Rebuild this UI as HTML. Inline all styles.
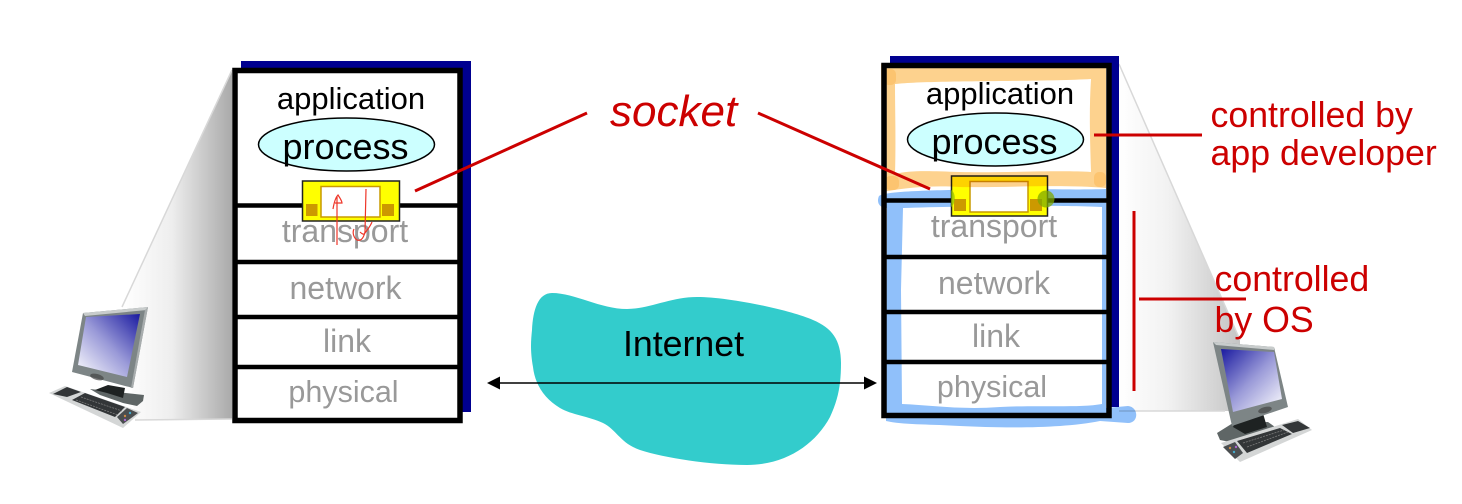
<!DOCTYPE html>
<html><head><meta charset="utf-8"><style>
html,body{margin:0;padding:0;background:#fff}
svg{display:block}
text{font-family:"Liberation Sans",sans-serif}
.g{fill:#999;font-size:32px;text-anchor:middle}
.p{fill:#999;font-size:30.500px;text-anchor:middle}
.k{fill:#000;text-anchor:middle}
.r{fill:#c00;font-size:35.700px}
</style></head><body>
<svg width="1462" height="504" viewBox="0 0 1462 504" xmlns="http://www.w3.org/2000/svg">
<defs>
<linearGradient id="wl" x1="0" x2="1" y1="0" y2="0"><stop offset="0" stop-color="#fff"/><stop offset=".45" stop-color="#eee"/><stop offset="1" stop-color="#aaa"/></linearGradient>
<linearGradient id="wr" x1="0" x2="1" y1="0" y2="0"><stop offset="0" stop-color="#fff"/><stop offset=".4" stop-color="#f2f2f2"/><stop offset="1" stop-color="#c4c4c4"/></linearGradient>
<linearGradient id="s1" x1="1" y1="0" x2="0" y2="1"><stop offset="0" stop-color="#1a1aa0"/><stop offset=".5" stop-color="#9a9ad8"/><stop offset="1" stop-color="#fff"/></linearGradient>
<linearGradient id="s2" x1="0" y1="0" x2="1" y2="1"><stop offset="0" stop-color="#1a1aa0"/><stop offset=".5" stop-color="#9a9ad8"/><stop offset="1" stop-color="#fff"/></linearGradient>
</defs>

<!-- wedges -->
<polygon points="232,70 122,307 135,420 232,419" fill="url(#wl)"/>
<path d="M232,70L122,307M135,420L232,419" stroke="#d8d8d8" stroke-width="1.500" fill="none"/>
<polygon points="1119,64 1240,340 1240,411 1119,411" fill="url(#wr)"/>
<path d="M1119,64L1240,340M1119,411L1225,411" stroke="#d8d8d8" stroke-width="1.500" fill="none"/>

<!-- left stack -->
<rect x="241" y="61" width="230" height="351" fill="#000090"/>
<rect x="235" y="70.500" width="225" height="350" fill="#fff" stroke="#000" stroke-width="5.500"/>
<path d="M235,205.500H460M235,262H460M235,317H460M235,367H460" stroke="#000" stroke-width="4.500"/>
<text class="k" x="351" y="109" font-size="31">application</text>
<ellipse cx="346.500" cy="144.500" rx="88" ry="26.500" fill="#ccffff" stroke="#000" stroke-width="1.500"/>
<text class="k" x="345.500" y="159" font-size="36">process</text>
<text class="g" x="345" y="242">transport</text>
<text class="g" x="345.500" y="299">network</text>
<text class="g" x="347" y="352">link</text>
<text class="p" x="343.500" y="402">physical</text>
<rect x="302.500" y="181" width="97" height="40" fill="#ff0" stroke="#222" stroke-width="1.500"/>
<rect x="321" y="186.500" width="59" height="30.500" fill="#fff" stroke="#c99a00" stroke-width="1.500"/>
<rect x="306" y="204" width="11.500" height="12" fill="#cc9900"/>
<rect x="382" y="204" width="12" height="12" fill="#cc9900"/>
<g fill="none" stroke="#ee3528" stroke-width="1.200">
<path d="M337,245L337,196M333,209C334,203 336,197 338,195C340,198 342,202 342,203C339,203 337,203 335,203"/>
<path d="M366,189L365,232C363,240 360,241 357,240C354,238 352,233 354,229M360,232C362,234 364,235 365,233C367,230 370,227 372,222"/>
</g>

<!-- right stack -->
<rect x="890" y="56" width="229" height="351" fill="#000090"/>
<rect x="884" y="65.500" width="225" height="350" fill="#fff" stroke="#000" stroke-width="5.500"/>
<path d="M884,200.500H1109M884,257H1109M884,312H1109M884,362H1109" stroke="#000" stroke-width="4.500"/>
<text class="k" x="1000" y="104" font-size="31">application</text>
<ellipse cx="995.500" cy="139.500" rx="88" ry="26.500" fill="#ccffff" stroke="#000" stroke-width="1.500"/>
<text class="k" x="994.500" y="154" font-size="36">process</text>
<text class="g" x="994" y="237">transport</text>
<text class="g" x="994" y="294">network</text>
<text class="g" x="996" y="347">link</text>
<text class="p" x="992" y="397">physical</text>

<!-- blue highlighter -->
<g style="mix-blend-mode:multiply">
<path d="M879,196C885,190 960,190 1000,189C1040,189 1080,190 1106,189L1106,408L1128,406C1139,407 1139,423 1128,423L1100,421C1060,429 1000,428 960,426C930,424 905,425 886,421L887,208C880,208 876,203 879,196Z
M903,208L901,290L902,404C930,405 960,410 1000,407C1040,405 1080,408 1102,404L1102,207C1060,205 960,206 903,208Z" fill="#90c0fa" fill-rule="evenodd"/>
</g>

<!-- right socket -->
<rect x="951.500" y="176" width="96" height="40" fill="#ff0" stroke="#222" stroke-width="1.500"/>
<rect x="970" y="181.500" width="58" height="30.500" fill="#fff" stroke="#c99a00" stroke-width="1.500"/>
<rect x="954" y="199" width="12" height="12" fill="#cc9900"/>
<rect x="1030" y="199" width="12" height="12" fill="#cc9900"/>
<circle cx="1046" cy="199" r="8.500" fill="#7fa800" opacity=".75"/>
<path d="M951,190C956,192 956,204 951,207Z" fill="#8fc000" opacity=".7"/>

<!-- orange highlighter -->
<g style="mix-blend-mode:multiply">
<path d="M881,64L1106,68L1106,188C1060,184 1000,188 960,187C930,185 905,188 882,192Z
M895,84C930,80 1040,82 1091,79C1089,110 1090,140 1091,172C1060,170 1000,173 960,172C930,171 910,170 895,174C896,140 895,110 895,84Z" fill="#fdd28e" fill-rule="evenodd"/>
<g fill="#fcc470"><rect x="883" y="69" width="13" height="16" rx="5"/><rect x="885" y="176" width="14" height="14" rx="5"/><rect x="1094" y="172" width="12" height="15" rx="5"/></g>
</g>

<!-- internet cloud -->
<path d="M552,293C575,293 600,309 627,309C650,309 670,297 697,297C730,297 790,310 813,320C832,328 841,340 841,363C841,385 838,400 830,417C815,445 785,465 747,465C710,465 665,458 640,450C620,443 617,430 603,423C588,416 572,415 560,408C545,399 535,385 533,367C530,350 531,340 532,330C533,310 538,293 552,293Z" fill="#33cccc"/>
<text x="623" y="356" font-size="35.700" fill="#000">Internet</text>
<path d="M499,383H865" stroke="#000" stroke-width="1.500"/>
<polygon points="487,383 500,376.500 500,389.500" fill="#000"/>
<polygon points="877,383 864,376.500 864,389.500" fill="#000"/>

<!-- red annotations -->
<path d="M415,191L587,113M758,113L930,189M1094,135H1202M1134,211V391M1139,299H1246" stroke="#c00" stroke-width="3" fill="none"/>
<text x="610" y="126" font-size="44" font-style="italic" fill="#c00">socket</text>
<text class="r" x="1210.500" y="127">controlled by</text>
<text class="r" x="1210.500" y="165">app developer</text>
<text class="r" x="1214.500" y="291">controlled</text>
<text class="r" x="1214.500" y="332">by OS</text>

<!-- left computer -->
<polygon points="90,389 144,395 143,401 137,406 123,403 100,395" fill="#5f6666"/>
<polygon points="95,390 108,385 125,388 123,398 107,393" fill="#1e2222"/>
<polygon points="83,313 148,307 133,388 72,372" fill="#7d8586"/>
<polygon points="83,313 148,307 147,310 85,316" fill="#c8cccc"/>
<polygon points="148,307 133,388 131,388 145,310" fill="#a8adae"/>
<polygon points="86,317 140,314 127,377 78,365" fill="url(#s1)"/>
<ellipse cx="97" cy="377" rx="7" ry="3" transform="rotate(15 97 377)" fill="#444" opacity=".7"/>
<polygon points="49,393 65,386 141,412 123,428" fill="#d4d6d6"/>
<polygon points="53,394 67,387 81,392 67,397" fill="#333638"/>
<polygon points="72,400 85,393 125,407 115,417" fill="#333638"/>
<polygon points="117,417 127,408 138,413 123,424" fill="#4a4e50"/>
<path d="M76,400L118,415M81,397L122,411" stroke="#7a7a7a" stroke-width=".8" stroke-dasharray="2 1"/>
<circle cx="125" cy="416" r="1.200" fill="#c84"/><circle cx="130" cy="413" r="1.200" fill="#4ac"/><circle cx="125" cy="420" r="1.200" fill="#a6c"/>

<!-- right computer -->
<polygon points="1217,433 1233,423 1268,422 1275,427 1257,435 1230,442 1220,440" fill="#5f6666"/>
<polygon points="1233,427 1239,415 1262,410 1267,427 1245,434" fill="#1e2222"/>
<polygon points="1213,342 1274,347 1288,407 1232,426" fill="#7d8586"/>
<polygon points="1213,342 1274,347 1274,350 1216,345" fill="#c8cccc"/>
<polygon points="1221,349 1274,352 1282,399 1233,412" fill="url(#s2)"/>
<ellipse cx="1265" cy="410" rx="7" ry="3" transform="rotate(-15 1265 410)" fill="#444" opacity=".7"/>
<polygon points="1221,443 1298,419 1312,430 1240,462" fill="#d4d6d6"/>
<polygon points="1237,441 1280,428 1292,434 1247,453" fill="#333638"/>
<polygon points="1282,425 1298,421 1310,428 1293,433" fill="#333638"/>
<polygon points="1223,447 1235,442 1243,453 1235,459" fill="#4a4e50"/>
<path d="M1243,443L1284,430M1247,447L1288,432" stroke="#7a7a7a" stroke-width=".8" stroke-dasharray="2 1"/>
<circle cx="1230" cy="448" r="1.200" fill="#c84"/><circle cx="1234" cy="452" r="1.200" fill="#4ac"/><circle cx="1236" cy="447" r="1.200" fill="#a6c"/>
</svg>
</body></html>
